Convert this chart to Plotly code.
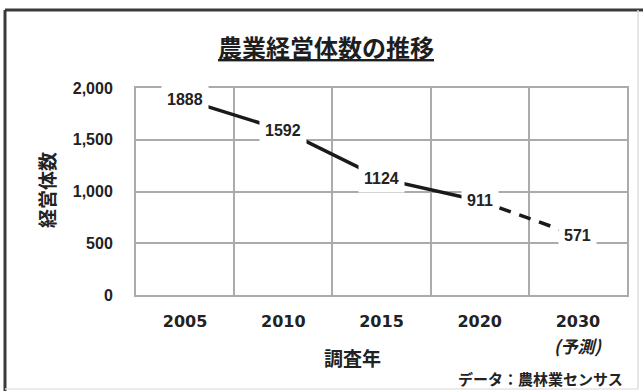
import plotly.graph_objects as go

# Survey years (2030 is a projection) and number of farm management entities
years = ["2005", "2010", "2015", "2020", "2030"]
counts = [1888, 1592, 1124, 911, 571]
forecast_start = 3  # segment from 2020 onward is the projection

y_ticks = [0, 500, 1000, 1500, 2000]

title_text = "農業経営体数の推移"
y_title = "経営体数"
x_title = "調査年"
forecast_note = "(予測)"
source_note = "データ：農林業センサス"

# Canvas and plot-area geometry (pixels)
W, H = 643, 391
L, R, T, B = 136, 16, 88, 96
PW, PH = W - L - R, H - T - B
BOTTOM = H - B


def px(x):
    return (x - L) / PW


def py(y):
    return (BOTTOM - y) / PH


CJK = "Noto Sans CJK JP"
GRID = "#ababab"
INK = "#1a1a1a"

fig = go.Figure()

fig.add_trace(go.Scatter(
    x=years[:forecast_start + 1], y=counts[:forecast_start + 1],
    mode="lines", line=dict(color=INK, width=3.5), hoverinfo="skip",
))
fig.add_trace(go.Scatter(
    x=years[forecast_start:], y=counts[forecast_start:],
    mode="lines", line=dict(color=INK, width=3.5, dash="12px,9px"),
    hoverinfo="skip",
))

annotations = []
# value labels on white boxes at each point (category axis -> index positions)
for i, v in enumerate(counts):
    annotations.append(dict(
        x=i, y=v, xref="x", yref="y", text=f"<b>{v}</b>", showarrow=False,
        font=dict(family="Liberation Sans", size=16, color="#222"),
        bgcolor="white", borderpad=5, xanchor="center", yanchor="middle",
    ))

annotations += [
    dict(x=px(326), y=py(46), xref="paper", yref="paper",
         text=f"<b><u>{title_text}</u></b>", showarrow=False,
         font=dict(family=CJK, size=24, color="#1e1e1e"),
         xanchor="center", yanchor="middle"),
    dict(x=px(46), y=py(190), xref="paper", yref="paper",
         text=f"<b>{y_title}</b>", showarrow=False, textangle=-90,
         font=dict(family=CJK, size=19, color="#222"),
         xanchor="center", yanchor="middle"),
    dict(x=px(352), y=py(357), xref="paper", yref="paper",
         text=f"<b>{x_title}</b>", showarrow=False,
         font=dict(family=CJK, size=19, color="#222"),
         xanchor="center", yanchor="middle"),
    dict(x=len(years) - 1, y=py(345), xref="x", yref="paper",
         text=f"<b><i>{forecast_note}</i></b>", showarrow=False,
         font=dict(family=CJK, size=17, color="#222"),
         xanchor="center", yanchor="middle"),
    dict(x=px(540), y=py(378), xref="paper", yref="paper",
         text=f"<b>{source_note}</b>", showarrow=False,
         font=dict(family=CJK, size=15, color="#222"),
         xanchor="center", yanchor="middle"),
]

# outer frame around the whole chart
shapes = [
    dict(type="line", xref="paper", yref="paper",
         x0=px(5), x1=px(660), y0=py(10), y1=py(10),
         line=dict(color="#3a3a3a", width=3)),
    dict(type="line", xref="paper", yref="paper",
         x0=px(5), x1=px(5), y0=py(10), y1=py(400),
         line=dict(color="#3a3a3a", width=3)),
    dict(type="line", xref="paper", yref="paper",
         x0=px(638), x1=px(638), y0=py(10), y1=py(389),
         line=dict(color="#dcdcdc", width=1.5)),
    dict(type="line", xref="paper", yref="paper",
         x0=px(5), x1=px(638), y0=py(389), y1=py(389),
         line=dict(color="#e4e4e4", width=1.5)),
]

fig.update_layout(
    width=W, height=H,
    margin=dict(l=L, r=R, t=T, b=B, pad=0),
    paper_bgcolor="white", plot_bgcolor="white",
    showlegend=False,
    annotations=annotations,
    shapes=shapes,
    xaxis=dict(
        type="category", categoryorder="array", categoryarray=years,
        range=[-0.5, len(years) - 0.5], tickson="boundaries",
        showgrid=True, gridcolor=GRID, gridwidth=2,
        showline=True, linecolor=GRID, linewidth=2, mirror=True,
        ticks="", tickvals=years, ticktext=[f"<b>{y}</b>" for y in years],
        tickfont=dict(family="DejaVu Sans", size=16, color="#222"),
        ticklabelstandoff=11, fixedrange=True,
    ),
    yaxis=dict(
        range=[0, 2000], tickvals=y_ticks,
        ticktext=[f"<b>{v:,}</b>" for v in y_ticks],
        showgrid=True, gridcolor=GRID, gridwidth=2, zeroline=False,
        showline=True, linecolor=GRID, linewidth=2, mirror=True,
        ticks="", tickfont=dict(family="Liberation Sans", size=16, color="#222"),
        ticklabelstandoff=18, fixedrange=True,
    ),
)

fig.write_html("out.html", config={"displayModeBar": False})
